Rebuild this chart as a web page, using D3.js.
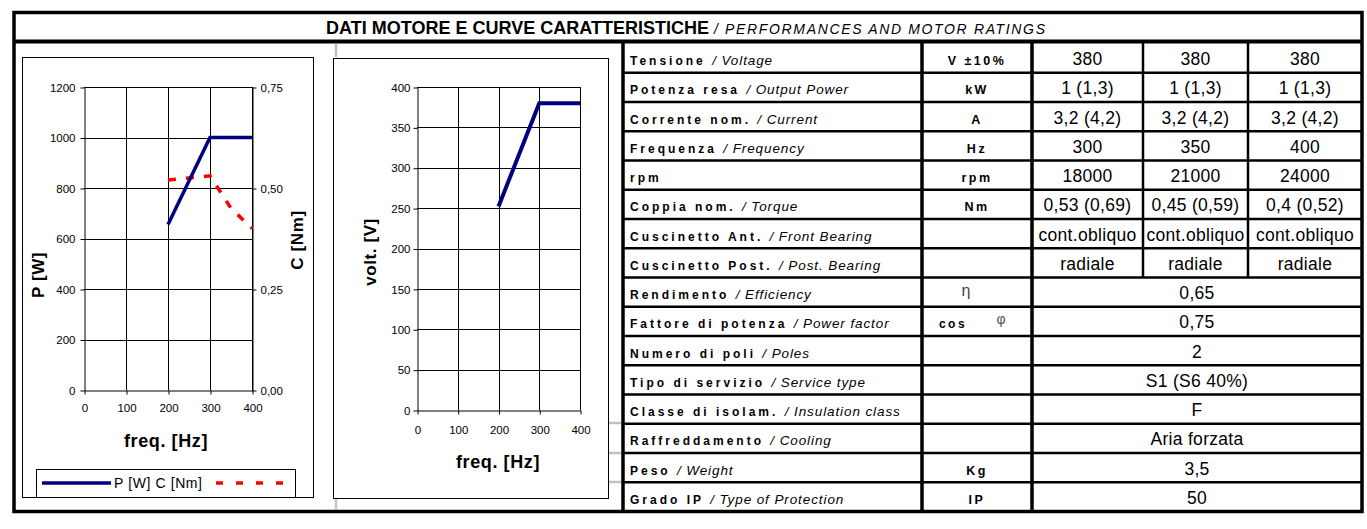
<!DOCTYPE html>
<html><head><meta charset="utf-8">
<script src="https://cdn.jsdelivr.net/npm/d3@7"></script>
<style>
body{margin:0;background:#fff}
svg{display:block}
text{font-family:"Liberation Sans",Arial,sans-serif;fill:#000}
</style></head>
<body><svg id="c" width="1367" height="529"></svg>
<script>
// ---------- DATA ----------
const freqTicks = [0,100,200,300,400];
const powerTicks = [0,200,400,600,800,1000,1200];
const torqueTicks = [0,0.25,0.5,0.75];
const voltTicks = [0,50,100,150,200,250,300,350,400];
const powerSeries = [[200,655],[300,1000],[400,1000]];
const torqueSeries = [[200,0.52],[300,0.53],[350,0.45],[400,0.40]];
const voltSeries = [[200,252],[300,380],[400,380]];

const labelIt = ["Tensione","Potenza resa","Corrente nom.","Frequenza","rpm","Coppia nom.","Cuscinetto Ant.","Cuscinetto Post.","Rendimento","Fattore di potenza","Numero di poli","Tipo di servizio","Classe di isolam.","Raffreddamento","Peso","Grado IP"];
const labelEn = ["/ Voltage","/ Output Power","/ Current","/ Frequency","","/ Torque","/ Front Bearing","/ Post. Bearing","/ Efficiency","/ Power factor","/ Poles","/ Service type","/ Insulation class","/ Cooling","/ Weight","/ Type of Protection"];
const units = ["V ±10%","kW","A","Hz","rpm","Nm","","","η","cos φ","","","","","Kg","IP"];
const motorValues = [
  ["380","380","380"],
  ["1 (1,3)","1 (1,3)","1 (1,3)"],
  ["3,2 (4,2)","3,2 (4,2)","3,2 (4,2)"],
  ["300","350","400"],
  ["18000","21000","24000"],
  ["0,53 (0,69)","0,45 (0,59)","0,4 (0,52)"],
  ["cont.obliquo","cont.obliquo","cont.obliquo"],
  ["radiale","radiale","radiale"]
];
const sharedValues = ["0,65","0,75","2","S1 (S6 40%)","F","Aria forzata","3,5","50"];
const titleIt = "DATI MOTORE E CURVE CARATTERISTICHE";
const titleEn = "/ PERFORMANCES AND MOTOR RATINGS";
const legendText = "P [W] C [Nm]";

// ---------- DRAW ----------
const svg = d3.select("#c");
const itLocale = d3.formatLocale({decimal:",",thousands:".",grouping:[3],currency:["","€"]});

// outer frame + title
svg.append("rect").attr("x",14).attr("y",12.5).attr("width",1348).attr("height",499)
  .attr("fill","none").attr("stroke","#000").attr("stroke-width",3.5);
svg.append("line").attr("x1",14).attr("x2",1362).attr("y1",41.5).attr("y2",41.5)
  .attr("stroke","#000").attr("stroke-width",4);
svg.append("text").attr("x",326).attr("y",34).attr("font-size",17.5).attr("font-weight","bold")
  .attr("textLength",383).attr("lengthAdjust","spacingAndGlyphs").text(titleIt);
svg.append("text").attr("x",714).attr("y",34).attr("font-size",14).attr("font-style","italic")
  .attr("textLength",331).attr("lengthAdjust","spacing").text(titleEn);

// spreadsheet grey stubs
const grey = svg.append("g").attr("stroke","#c0c0c0").attr("stroke-width",2.5);
grey.append("line").attr("x1",336).attr("x2",336).attr("y1",44).attr("y2",57);
grey.append("line").attr("x1",336).attr("x2",336).attr("y1",499).attr("y2",509);
[423,453,482].forEach(y=>grey.append("line").attr("x1",609).attr("x2",621).attr("y1",y).attr("y2",y));

function styleAxis(g, fs){
  g.selectAll("path").attr("stroke","#000").attr("stroke-width",1);
  g.selectAll("line").attr("stroke","#000").attr("stroke-width",1);
  g.selectAll("text").attr("font-size",fs).attr("fill","#000").attr("font-family","Liberation Sans, Arial, sans-serif");
}

// ---------- Chart 1 ----------
svg.append("rect").attr("x",22.5).attr("y",57.5).attr("width",291).attr("height",440)
  .attr("fill","#fff").attr("stroke","#000").attr("stroke-width",1);
const x1 = d3.scaleLinear().domain([0,400]).range([84,252]);
const yP = d3.scaleLinear().domain([0,1200]).range([390,87]);
const yC = d3.scaleLinear().domain([0,0.75]).range([390,87]);
const g1 = svg.append("g");
const grid1 = g1.append("g").attr("stroke","#000").attr("stroke-width",1);
powerTicks.filter(d=>d>0).forEach(d=>grid1.append("line").attr("x1",x1(0)).attr("x2",x1(400)).attr("y1",Math.round(yP(d))+0.5).attr("y2",Math.round(yP(d))+0.5));
freqTicks.filter(d=>d>0).forEach(d=>grid1.append("line").attr("x1",Math.round(x1(d))+0.5).attr("x2",Math.round(x1(d))+0.5).attr("y1",yP(1200)).attr("y2",yP(0)));
g1.append("g").attr("transform","translate(84.5,0.5)")
  .call(d3.axisLeft(yP).tickValues(powerTicks).tickSizeInner(4).tickSizeOuter(0).tickPadding(5).tickFormat(d3.format("d")))
  .call(g=>styleAxis(g,11.5));
g1.append("g").attr("transform","translate(252.5,0.5)")
  .call(d3.axisRight(yC).tickValues(torqueTicks).tickSizeInner(4).tickSizeOuter(0).tickPadding(4).tickFormat(itLocale.format(".2f")))
  .call(g=>styleAxis(g,11.5));
g1.append("g").attr("transform","translate(0.5,390.5)")
  .call(d3.axisBottom(x1).tickValues(freqTicks).tickSizeInner(4).tickSizeOuter(0).tickPadding(9).tickFormat(d3.format("d")))
  .call(g=>styleAxis(g,11.5));
const lineP = d3.line().x(d=>x1(d[0])).y(d=>yP(d[1]));
const lineC = d3.line().x(d=>x1(d[0])).y(d=>yC(d[1]));
g1.append("path").attr("d",lineC(torqueSeries)).attr("fill","none").attr("stroke","#ff0000")
  .attr("stroke-width",3.5).attr("stroke-dasharray","8,10");
g1.append("path").attr("d",lineP(powerSeries)).attr("fill","none").attr("stroke","#000080")
  .attr("stroke-width",3.5);
g1.append("text").attr("x",166).attr("y",447).attr("text-anchor","middle").attr("font-size",18)
  .attr("font-weight","bold").attr("letter-spacing",0.6).text("freq. [Hz]");
g1.append("text").attr("transform","translate(44,275) rotate(-90)").attr("text-anchor","middle")
  .attr("font-size",17).attr("font-weight","bold").attr("letter-spacing",0.6).text("P [W]");
g1.append("text").attr("transform","translate(303,240) rotate(-90)").attr("text-anchor","middle")
  .attr("font-size",17).attr("font-weight","bold").attr("letter-spacing",0.6).text("C [Nm]");
// legend
g1.append("rect").attr("x",36.5).attr("y",469.5).attr("width",259).attr("height",28)
  .attr("fill","#fff").attr("stroke","#000").attr("stroke-width",1);
g1.append("line").attr("x1",42).attr("x2",111).attr("y1",483).attr("y2",483)
  .attr("stroke","#000080").attr("stroke-width",3.5);
g1.append("text").attr("x",114).attr("y",488).attr("font-size",14).attr("letter-spacing",0.6).text(legendText);
g1.append("line").attr("x1",216).attr("x2",285).attr("y1",483).attr("y2",483)
  .attr("stroke","#ff0000").attr("stroke-width",3.5).attr("stroke-dasharray","7,13");

// ---------- Chart 2 ----------
svg.append("rect").attr("x",333.5).attr("y",58.5).attr("width",275).attr("height",440)
  .attr("fill","#fff").attr("stroke","#000").attr("stroke-width",1);
const x2 = d3.scaleLinear().domain([0,400]).range([417,580]);
const yV = d3.scaleLinear().domain([0,400]).range([410,87]);
const g2 = svg.append("g");
const grid2 = g2.append("g").attr("stroke","#000").attr("stroke-width",1);
voltTicks.filter(d=>d>0).forEach(d=>grid2.append("line").attr("x1",x2(0)).attr("x2",x2(400)).attr("y1",Math.round(yV(d))+0.5).attr("y2",Math.round(yV(d))+0.5));
freqTicks.filter(d=>d>0).forEach(d=>grid2.append("line").attr("x1",Math.round(x2(d))+0.5).attr("x2",Math.round(x2(d))+0.5).attr("y1",yV(400)).attr("y2",yV(0)));
g2.append("g").attr("transform","translate(417.5,0.5)")
  .call(d3.axisLeft(yV).tickValues(voltTicks).tickSizeInner(4).tickSizeOuter(0).tickPadding(3).tickFormat(d3.format("d")))
  .call(g=>styleAxis(g,11.5));
g2.append("g").attr("transform","translate(0.5,410.5)")
  .call(d3.axisBottom(x2).tickValues(freqTicks).tickSizeInner(4).tickSizeOuter(0).tickPadding(11).tickFormat(d3.format("d")))
  .call(g=>styleAxis(g,11.5));
const lineV = d3.line().x(d=>x2(d[0])).y(d=>yV(d[1]));
g2.append("path").attr("d",lineV(voltSeries)).attr("fill","none").attr("stroke","#000080").attr("stroke-width",4);
g2.append("text").attr("x",498).attr("y",468).attr("text-anchor","middle").attr("font-size",18)
  .attr("font-weight","bold").attr("letter-spacing",0.6).text("freq. [Hz]");
g2.append("text").attr("transform","translate(376,252) rotate(-90)").attr("text-anchor","middle")
  .attr("font-size",17).attr("font-weight","bold").attr("letter-spacing",0.6).text("volt. [V]");

// ---------- Table ----------
const cols = [623,922,1032,1143,1248,1362];
const nRows = labelIt.length;
const rowY = d3.scaleLinear().domain([0,nRows]).range([43.5,511.5]);
const tbl = svg.append("g");
const lines = tbl.append("g").attr("stroke","#000");
d3.range(1,nRows).forEach(i=>lines.append("line").attr("x1",cols[0]).attr("x2",cols[5])
  .attr("y1",rowY(i)).attr("y2",rowY(i)).attr("stroke-width",2.5));
[cols[0],cols[1],cols[2]].forEach(x=>lines.append("line").attr("x1",x).attr("x2",x)
  .attr("y1",41.5).attr("y2",511.5).attr("stroke-width",3.5));
[cols[3],cols[4]].forEach(x=>lines.append("line").attr("x1",x).attr("x2",x)
  .attr("y1",41.5).attr("y2",rowY(motorValues.length)).attr("stroke-width",2.5));

labelIt.forEach((lab,i)=>{
  const cy = (rowY(i)+rowY(i+1))/2;
  const t = tbl.append("text").attr("x",630).attr("y",cy+7).attr("font-size",12);
  t.append("tspan").attr("font-weight","bold").attr("letter-spacing",3).text(lab+" ");
  if(labelEn[i]) t.append("tspan").attr("font-style","italic").attr("font-size",13.5).attr("letter-spacing",0.9).text(labelEn[i]);
  const u = units[i];
  if(u==="η"){
    tbl.append("text").attr("x",966).attr("y",cy+4).attr("text-anchor","middle").attr("font-size",16)
      .attr("font-family","DejaVu Sans").style("fill","#444").text(u);
  } else if(u==="cos φ"){
    tbl.append("text").attr("x",953).attr("y",cy+7).attr("text-anchor","middle").attr("font-size",12)
      .attr("font-weight","bold").attr("letter-spacing",2.5).text("cos");
    tbl.append("text").attr("x",1001).attr("y",cy+3).attr("text-anchor","middle").attr("font-size",14)
      .attr("font-family","DejaVu Sans").style("fill","#555").text("φ");
  } else if(u){
    tbl.append("text").attr("x",977).attr("y",cy+7).attr("text-anchor","middle").attr("font-size",12.5)
      .attr("font-weight","bold").attr("letter-spacing",2.5).text(u);
  }
  if(i<motorValues.length){
    motorValues[i].forEach((v,j)=>{
      tbl.append("text").attr("x",(cols[2+j]+cols[3+j])/2).attr("y",cy+7).attr("text-anchor","middle")
        .attr("font-size",17.5).attr("letter-spacing",0.3).text(v);
    });
  } else {
    tbl.append("text").attr("x",(cols[2]+cols[5])/2).attr("y",cy+7).attr("text-anchor","middle")
      .attr("font-size",17.5).attr("letter-spacing",0.3).text(sharedValues[i-motorValues.length]);
  }
});
</script></body></html>
